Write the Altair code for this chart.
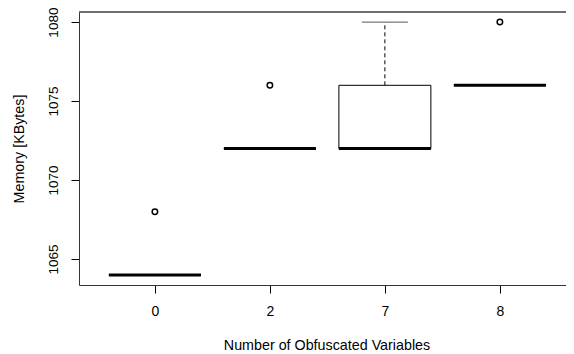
import altair as alt
import pandas as pd

groups = ["0", "2", "7", "8"]
lower = [1064, 1072, 1072, 1076]
q1 = [1064, 1072, 1072, 1076]
median = [1064, 1072, 1072, 1076]
q3 = [1064, 1072, 1076, 1076]
upper = [1064, 1072, 1080, 1076]
outlier_group = ["0", "2", "8"]
outlier_value = [1068, 1076, 1080]
y_ticks = [1065, 1070, 1075, 1080]

FONT = "Liberation Sans"
W, H = 487, 273

stats = pd.DataFrame({
    "group": groups, "lower": lower, "q1": q1, "median": median,
    "q3": q3, "upper": upper,
})
stats["pos"] = [groups.index(g) + 1 for g in groups]
outs = pd.DataFrame({"group": outlier_group, "value": outlier_value})
outs["pos"] = [groups.index(g) + 1 for g in outlier_group]

label_expr = "[" + ",".join("'%s'" % g for g in groups) + "][datum.value - 1]"

xscale = alt.Scale(domain=[0.34, 4.575], nice=False, zero=False)
yscale = alt.Scale(domain=[1063.36, 1080.64], nice=False, zero=False)

xaxis = alt.Axis(values=[1, 2, 3, 4], labelExpr=label_expr, grid=False, domain=True,
                 domainColor="#333333", domainWidth=1,
                 tickSize=8, tickColor="black", labelFontSize=14, labelFont=FONT,
                 labelColor="black", labelBaseline="middle", labelPadding=18,
                 title="Number of Obfuscated Variables", titleFont=FONT, titleFontSize=14.3,
                 titleFontWeight="normal", titleColor="black", titleX=247.5, titleY=60,
                 titleBaseline="middle", titleAlign="center")
yaxis = alt.Axis(values=y_ticks, format="d", grid=False, domain=True,
                 domainColor="#333333", domainWidth=1, tickSize=8, tickColor="black",
                 labelFontSize=13.5, labelFont=FONT, labelColor="black", labelAngle=-90,
                 labelAlign="center", labelBaseline="middle", labelPadding=18,
                 title="Memory [KBytes]", titleFont=FONT, titleFontSize=14.3,
                 titleFontWeight="normal", titleColor="black", titleAngle=-90,
                 titleX=-60, titleY=136.5, titleBaseline="middle", titleAlign="center")

base = alt.Chart(stats).transform_calculate(
    lo="datum.pos - 0.4", hi="datum.pos + 0.4",
    clo="datum.pos - 0.2", chi="datum.pos + 0.2",
)

box = base.mark_rect(fill="white", stroke="black", strokeWidth=1).encode(
    x=alt.X("lo:Q", scale=xscale, axis=xaxis),
    x2="hi:Q",
    y=alt.Y("q1:Q", scale=yscale, axis=yaxis),
    y2="q3:Q",
)
whisk_up = base.mark_rule(color="black", strokeWidth=1, strokeDash=[4, 3]).encode(
    x="pos:Q", y="q3:Q", y2="upper:Q")
whisk_lo = base.mark_rule(color="black", strokeWidth=1, strokeDash=[4, 3]).encode(
    x="pos:Q", y="lower:Q", y2="q1:Q")
cap_up = base.mark_rule(color="#555555", strokeWidth=1).encode(
    x="clo:Q", x2="chi:Q", y="upper:Q")
cap_lo = base.mark_rule(color="#555555", strokeWidth=1).encode(
    x="clo:Q", x2="chi:Q", y="lower:Q")
med = base.mark_rule(color="black", strokeWidth=3).encode(
    x="lo:Q", x2="hi:Q", y="median:Q")
pts = alt.Chart(outs).mark_point(shape="circle", filled=False, color="black",
                                 strokeWidth=1.5, size=30, opacity=1).encode(
    x="pos:Q", y="value:Q")
top = alt.Chart(stats).mark_rule(color="#666666", strokeWidth=1).encode(
    x=alt.value(0), x2=alt.value(W), y=alt.value(0))

chart = alt.layer(top, box, whisk_up, whisk_lo, cap_up, cap_lo, med, pts).properties(
    width=W, height=H,
    autosize=alt.AutoSizeParams(type="none"),
    padding={"left": 71, "top": 4, "right": 0, "bottom": 70},
    background="white",
).configure_view(strokeWidth=0)

chart.save("out.html", embed_options={"renderer": "svg", "actions": False})
